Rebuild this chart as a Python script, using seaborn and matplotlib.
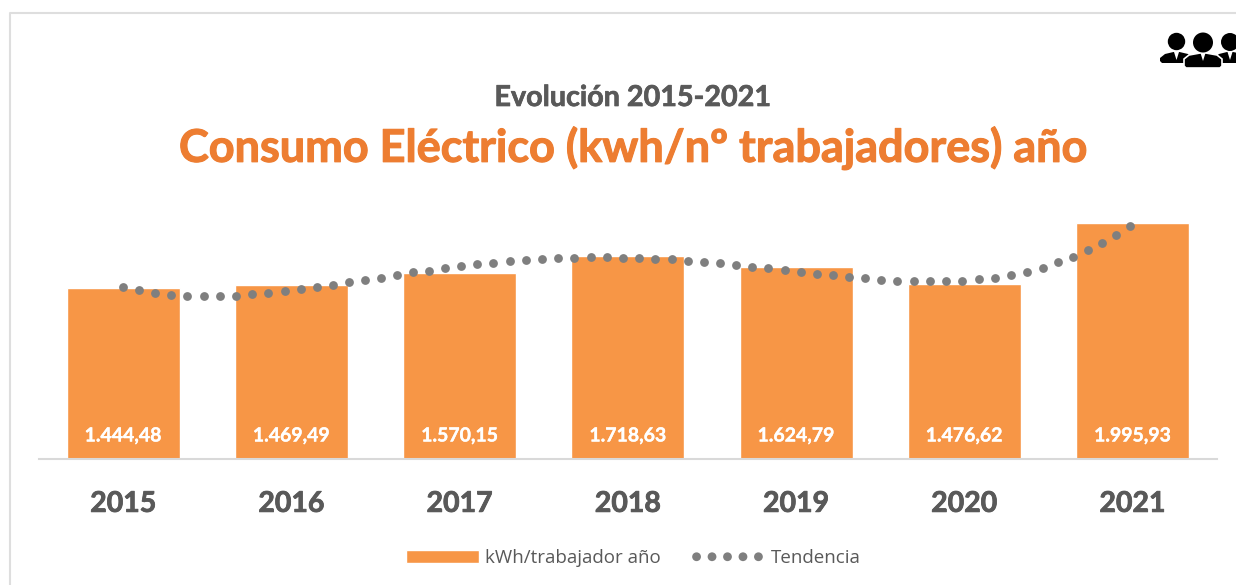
import matplotlib
matplotlib.use("Agg")
import matplotlib.pyplot as plt
import matplotlib.patheffects as pe
import seaborn as sns
from matplotlib.patches import Circle, Polygon

# -------------------------
# Data
# -------------------------
years = ['2015', '2016', '2017', '2018', '2019', '2020', '2021']
consumo = [1444.48, 1469.49, 1570.15, 1718.63, 1624.79, 1476.62, 1995.93]
consumo_labels = ['1.444,48', '1.469,49', '1.570,15', '1.718,63',
                  '1.624,79', '1.476,62', '1.995,93']

# dotted trend line, one entry per dot (x in category units)
trend_x = [0, .093, .188, .285, .381, .478, .575, .670, .767, .862, .960,
           1.055, 1.150, 1.245, 1.342, 1.437, 1.532, 1.627, 1.722, 1.817,
           1.914, 2.010, 2.105, 2.200, 2.297, 2.392, 2.489, 2.584, 2.681,
           2.779, 2.874, 2.971, 3.068, 3.163, 3.260, 3.357, 3.452, 3.548,
           3.644, 3.740, 3.835, 3.932, 4.027, 4.124, 4.219, 4.314, 4.411,
           4.507, 4.602, 4.699, 4.796, 4.893, 4.989, 5.086, 5.181, 5.276,
           5.371, 5.466, 5.555, 5.646, 5.735, 5.820, 5.904, 5.985]
trend_y = [1452, 1427, 1404, 1387, 1378, 1378, 1378, 1381, 1393, 1404, 1418,
           1435, 1452, 1472, 1494, 1512, 1533, 1556, 1576, 1592,
           1613, 1632, 1647, 1660, 1672, 1683, 1691, 1697, 1702,
           1706, 1706, 1702, 1700, 1694, 1687, 1677, 1666, 1658,
           1643, 1626, 1613, 1598, 1581, 1567, 1554, 1539, 1528,
           1516, 1508, 1503, 1503, 1503, 1508, 1520, 1533, 1556,
           1584, 1618, 1664, 1711, 1765, 1829, 1897, 1973]

ORANGE_BAR = '#F79646'
ORANGE_TITLE = '#ED7D31'
GREY_TEXT = '#595959'
GREY_DOT = '#7F7F7F'
W, H = 1236, 585

sns.set_theme(style='white')
plt.rcParams['font.family'] = ['Lato', 'DejaVu Sans']


def heavier(artist, color, width=0.5):
    # Lato bold is a bit lighter than the chart's font
    artist.set_path_effects([pe.withStroke(linewidth=width, foreground=color)])


fig = plt.figure(figsize=(W / 100, H / 100), dpi=100)
ax = fig.add_axes([39 / W, (H - 458.9) / H, 1177.6 / W, 259.5 / H])

sns.barplot(x=years, y=consumo, color=ORANGE_BAR, saturation=1, width=0.672,
            label='kWh/trabajador año', ax=ax)
sns.scatterplot(x=trend_x, y=trend_y, color=GREY_DOT, s=40, linewidth=0,
                label='Tendencia', zorder=5, ax=ax)

ax.set_xlim(-0.501, 6.5)
ax.set_ylim(0, 2194)
ax.set_yticks([])
ax.set_xlabel('')
ax.set_ylabel('')
sns.despine(ax=ax, left=True)
ax.spines['bottom'].set_color('#D9D9D9')
ax.spines['bottom'].set_linewidth(1.5)
ax.tick_params(axis='x', length=0, pad=23, labelsize=20.5, labelcolor=GREY_TEXT)
for tick in ax.get_xticklabels():
    tick.set_fontweight('bold')
    heavier(tick, GREY_TEXT, 0.6)

# value labels sit at the bottom of each bar
for i, label in enumerate(consumo_labels):
    txt = ax.annotate(label, (i, 0), xytext=(0, 16.5), textcoords='offset points',
                      ha='center', va='center', color='white', fontsize=14,
                      fontweight='bold')
    heavier(txt, 'white', 0.25)

handles, labels = ax.get_legend_handles_labels()
bar_first = sorted(zip(handles, labels), key=lambda p: p[1] == 'Tendencia')
leg = ax.legend([p[0] for p in bar_first], [p[1] for p in bar_first],
                loc='center', bbox_to_anchor=(633 / W, (H - 558) / H),
                bbox_transform=fig.transFigure, ncols=2, frameon=False,
                prop={'family': 'Open Sans', 'size': 13.5},
                handlelength=3.9, handleheight=0.65, handletextpad=0.35,
                columnspacing=1.6, scatterpoints=5, scatteryoffsets=[0.5])
for text in leg.get_texts():
    text.set_color(GREY_TEXT)

# titles
sub = fig.text(633 / W, 1 - 98 / H, 'Evolución 2015-2021', ha='center',
               va='center', color=GREY_TEXT, fontsize=20.7, fontweight='bold')
heavier(sub, GREY_TEXT, 0.5)
main = fig.text(633 / W, 1 - 148 / H,
                'Consumo Eléctrico (kwh/nº trabajadores) año',
                ha='center', va='center', color=ORANGE_TITLE, fontsize=32.4,
                fontweight='bold')
heavier(main, ORANGE_TITLE, 0.8)

# overlay in pixel coordinates for the frame and the people icon
over = fig.add_axes([0, 0, 1, 1], zorder=10)
over.set_xlim(0, W)
over.set_ylim(H, 0)
over.axis('off')
over.plot([10, 10, W], [H, 12.5, 12.5], color='#DEDEDE', lw=1.5)


def person(cx, head_y, head_r, x0, x1, y0, y1, edge='none'):
    body = [(x0, y1 - 2), (x0, y0 + 6), (x0 + 5, y0 + 2), (cx - 3, y0),
            (cx + 3, y0), (x1 - 5, y0 + 2), (x1, y0 + 6), (x1, y1 - 2),
            (x1 - 2, y1), (x0 + 2, y1)]
    over.add_patch(Polygon(body, fc='black', ec=edge, lw=1.2))
    over.add_patch(Circle((cx, head_y), head_r, fc='black', ec='none'))
    over.add_patch(Polygon([(cx - 2.5, y0), (cx + 2.5, y0), (cx, y0 + 8)],
                           fc='white', ec='none'))


person(1176.5, 41.5, 8.7, 1160, 1193, 52, 63)
person(1230, 42, 9, 1214, 1248, 52, 63)
person(1203, 42.5, 10, 1184, 1222, 53, 68, edge='white')

plt.savefig('out.png', dpi=100)
plt.close()
